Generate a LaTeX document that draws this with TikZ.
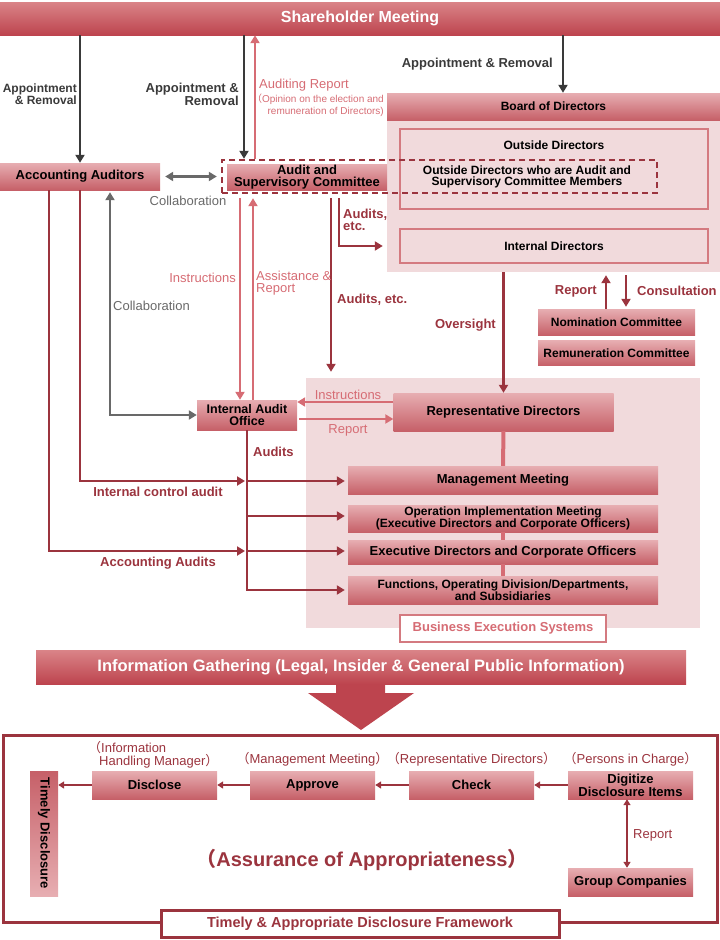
\documentclass[tikz,border=0pt]{standalone}
\usepackage{fontspec}
\setmainfont{Liberation Sans}
\newfontfamily\cjkfont{Noto Sans CJK JP}
\usetikzlibrary{arrows.meta,positioning}
\newcommand{\fwl}{{\cjkfont （}}
\newcommand{\fwr}{{\cjkfont ）}}
\definecolor{dred}{RGB}{155,52,62}
\definecolor{lred}{RGB}{214,108,116}
\definecolor{bxtop}{RGB}{231,174,178}
\definecolor{bxbot}{RGB}{198,96,104}
\definecolor{bartop}{RGB}{218,132,136}
\definecolor{barbot}{RGB}{189,68,78}
\definecolor{pnl}{RGB}{241,218,220}
\definecolor{outl}{RGB}{212,122,128}
\definecolor{dgray}{RGB}{58,58,58}
\definecolor{mgray}{RGB}{105,105,105}
\tikzset{
  box/.style={shade, top color=bxtop, bottom color=bxbot, inner sep=0pt, align=center,
    font=\bfseries\fontsize{13}{12}\selectfont},
  sbox/.style={box, font=\bfseries\fontsize{12}{12}\selectfont},
  bar/.style={shade, top color=bartop, bottom color=barbot, text=white, inner sep=0pt,
    font=\bfseries\fontsize{16}{18}\selectfont},
  panel/.style={fill=pnl, inner sep=0pt},
  obox/.style={draw=outl, line width=1.8pt, fill=pnl, inner sep=0pt,
    font=\bfseries\fontsize{12}{12}\selectfont},
  dashgrp/.style={draw=dred, line width=2.4pt, dash pattern=on 6pt off 4pt, inner sep=0pt},
  wbox/.style={draw=outl, line width=2pt, fill=white, inner sep=0pt, text=lred,
    font=\bfseries\fontsize{13}{12}\selectfont},
  frm/.style={draw=dred, line width=3pt, inner sep=0pt},
  tdfbox/.style={draw=dred, line width=3pt, fill=white, inner sep=0pt, text=dred,
    font=\bfseries\fontsize{14.5}{14}\selectfont},
  txt/.style={inner sep=0pt, align=center, font=\bfseries\fontsize{12}{11.5}\selectfont},
  dlbl/.style={inner sep=0pt, align=center, text=dred, font=\bfseries\fontsize{13}{12}\selectfont},
  glbl/.style={inner sep=0pt, text=dgray, font=\bfseries\fontsize{13}{12}\selectfont},
  llbl/.style={inner sep=0pt, text=lred, font=\fontsize{13}{12}\selectfont},
  ylbl/.style={inner sep=0pt, text=mgray, font=\fontsize{13}{12}\selectfont},
  plbl/.style={inner sep=0pt, text=dred, font=\fontsize{13}{13}\selectfont},
  arr/.style={line width=2.6pt, ->},
  darr/.style={arr, draw=dred},
  larr/.style={arr, draw=lred},
  garr/.style={arr, draw=dgray},
  yarr/.style={arr, draw=mgray},
  sarr/.style={draw=dred, line width=2.2pt, >={Triangle[length=6pt,width=7pt]}, ->},
  conn/.style={draw=lred, line width=4pt},
}

\begin{document}
\begin{tikzpicture}[x=1pt, y=-1pt, >={Triangle[length=8pt,width=9pt]}]
  \useasboundingbox (0,0) rectangle (720,940);

  \node[bar, minimum width=720pt, minimum height=33pt] (share) at (360,18.5) {Shareholder Meeting};

  % board of directors
  \node[panel, minimum width=333pt, minimum height=179pt] (boardp) at (553.5,182.5) {};
  \node[sbox, minimum width=333pt, minimum height=27pt] (board) at (553.5,106.5) {Board of Directors};
  \node[obox, minimum width=308pt, minimum height=80pt] (outdir) at (554,169) {};
  \node[txt, below=12.5pt of outdir.north] (outlbl) {Outside Directors};
  \node[txt] (ascm) at (527,177) {Outside Directors who are Audit and\\Supervisory Committee Members};
  \node[obox, minimum width=308pt, minimum height=34pt] (intdir) at (554,246) {Internal Directors};
  \node[sbox, minimum width=157pt, minimum height=26pt] (nom) at (616.5,322) {Nomination Committee};
  \node[sbox, minimum width=157pt, minimum height=25pt, below=5pt of nom] (rem) {Remuneration Committee};

  % auditors
  \node[box, minimum width=160pt, minimum height=27pt] (acc) at (80,176.5) {Accounting Auditors};
  \node[box, minimum width=160pt, minimum height=26pt] (asc) at (307,177) {Audit and\\Supervisory Committee};
  \node[dashgrp, minimum width=435pt, minimum height=33pt] (ascgrp) at (439.5,176.5) {};

  % business execution
  \node[panel, minimum width=394pt, minimum height=250pt] (exsys) at (503,503) {};
  \node[box, minimum width=100pt, minimum height=30pt, font=\bfseries\fontsize{12.5}{12}\selectfont] (iao) at (247,415) {Internal Audit\\Office};
  \node[box, minimum width=220pt, minimum height=38pt] (rep) at (503.5,412) {Representative Directors};
  \node[box, minimum width=310pt, minimum height=28pt] (mm) at (503,480) {Management Meeting};
  \node[sbox, minimum width=310pt, minimum height=27pt] (oim) at (503,518.5) {Operation Implementation Meeting\\(Executive Directors and Corporate Officers)};
  \node[box, minimum width=310pt, minimum height=24pt] (edco) at (503,552) {Executive Directors and Corporate Officers};
  \node[sbox, minimum width=310pt, minimum height=28pt] (func) at (503,590) {Functions, Operating Division/Departments,\\and Subsidiaries};
  \node[wbox, minimum width=206pt, minimum height=27pt] (bes) at (exsys.south) {Business Execution Systems};

  % information gathering
  \fill[barbot] (336,680) -- (385,680) -- (385,693) -- (414,693) -- (361,730) -- (308,693) -- (336,693) -- cycle;
  \node[bar, minimum width=650pt, minimum height=34pt, font=\bfseries\fontsize{16.5}{18}\selectfont] (info) at (361,667) {Information Gathering (Legal, Insider \& General Public Information)};

  % disclosure framework
  \node[frm, minimum width=714pt, minimum height=187pt] (frame) at (360,828.5) {};
  \node[tdfbox, minimum width=398pt, minimum height=27pt] (tdf) at (frame.south) {Timely \& Appropriate Disclosure Framework};
  \node[box, rotate=-90, top color=bxbot, bottom color=bxtop, minimum width=125pt, minimum height=28pt] (tdisc) at (44,833.5) {Timely Disclosure};
  \node[box, minimum width=125pt, minimum height=28pt] (disc) at (154.5,785) {Disclose};
  \node[box, minimum width=125pt, minimum height=28pt] (appr) at (312.5,785) {Approve};
  \node[box, minimum width=125pt, minimum height=28pt] (chk) at (471.5,785) {Check};
  \node[box, minimum width=125pt, minimum height=28pt] (digi) at (630.5,785) {Digitize\\Disclosure Items};
  \node[box, minimum width=125pt, minimum height=28pt] (grpco) at (630.5,882) {Group Companies};

  % connectors
  \draw[garr] (share.south -| acc.north) -- (acc.north);
  \draw[garr] (244,0 |- share.south) -- (244,0 |- ascgrp.north);
  \draw[larr] (255,0 |- ascgrp.north) -- (255,0 |- share.south);
  \draw[garr] (563,0 |- share.south) -- (563,0 |- boardp.north);
  \draw[yarr, <->, shorten <=5pt, shorten >=4pt] (acc.east) -- (ascgrp.west);

  \draw[larr, shorten <=4pt] (240,0 |- ascgrp.south) -- (240,0 |- iao.north);
  \draw[larr, shorten >=4pt] (253,0 |- iao.north) -- (253,0 |- ascgrp.south);
  \draw[darr, shorten <=4pt, shorten >=6pt] (331,0 |- ascgrp.south) -- (331,0 |- exsys.north);
  \draw[darr, shorten <=4pt, shorten >=4pt] (339,0 |- ascgrp.south) |- (boardp.west |- intdir.west);
  \draw[yarr, <->, shorten <=2pt] (110,0 |- acc.south) |- (iao.west);

  \coordinate (aud1) at (247,481);
  \coordinate (aud2) at (247,516);
  \coordinate (aud3) at (247,551);
  \coordinate (aud4) at (247,590);
  \draw[draw=dred, line width=2.6pt] (iao.south) -- ([yshift=-1.3pt]aud4);
  \draw[darr, shorten >=2pt] (acc.south) |- (aud1);
  \draw[darr, shorten >=2pt] (49,0 |- acc.south) |- (aud3);
  \foreach \n/\b in {1/mm, 2/oim, 3/edco, 4/func}
    \draw[darr, shorten >=3pt] (aud\n) -- (\b.west |- aud\n);

  \draw[darr] (rep.north |- boardp.south) -- (rep.north);
  \draw[darr, shorten >=3pt] (606,0 |- nom.north) -- (606,0 |- boardp.south);
  \draw[darr, shorten <=3pt, shorten >=2pt] (626,0 |- boardp.south) -- (626,0 |- nom.north);
  \draw[larr] (rep.west |- 0,402) -- (iao.east |- 0,402);
  \draw[larr, shorten <=2pt] (iao.east |- 0,419) -- (rep.west |- 0,419);

  \draw[conn] (rep.south) -- (mm.north);
  \draw[conn] (oim.south) -- (edco.north);
  \draw[conn] (edco.south) -- (func.north);

  \draw[sarr] (digi.west) -- (chk.east);
  \draw[sarr] (chk.west) -- (appr.east);
  \draw[sarr] (appr.west) -- (disc.east);
  \draw[sarr] (disc.west) -- (disc.west -| tdisc.north);
  \draw[sarr, <->] (627,0 |- digi.south) -- (627,0 |- grpco.north);

  % labels
  \node[glbl, align=right, anchor=east, font=\bfseries\fontsize{12}{12}\selectfont] (appl1) at (77,94) {Appointment\\\& Removal};
  \node[glbl, align=right, anchor=east] (appl2) at (239,94) {Appointment \&\\Removal};
  \node[glbl, anchor=east] (appl3) at (553,64) {Appointment \& Removal};
  \node[llbl, anchor=west] (audrep) at (259,85) {Auditing Report};
  \node[llbl, align=right, anchor=east, font=\fontsize{10}{12}\selectfont] (opin) at (384,105) {\fwl Opinion on the election and\\remuneration of Directors)};
  \node[ylbl] (coll1) at (188,201) {Collaboration};
  \node[ylbl, anchor=west] (coll2) at (113,306) {Collaboration};
  \node[dlbl, align=left, anchor=west] (audetc1) at (343,220) {Audits,\\etc.};
  \node[dlbl, anchor=west] (audetc2) at (337,300) {Audits, etc.};
  \node[llbl, anchor=east] (instr1) at (236,278) {Instructions};
  \node[llbl, align=left, anchor=west] (assist) at (256,283) {Assistance \&\\Report};
  \node[dlbl, anchor=east] (oversight) at (496,325) {Oversight};
  \node[dlbl, anchor=east] (rep1) at (597,291) {Report};
  \node[dlbl, anchor=west] (consult) at (637,291) {Consultation};
  \node[llbl] (instr2) at (348,395) {Instructions};
  \node[llbl] (rep2) at (348,430) {Report};
  \node[dlbl, anchor=west] (audits) at (253,452) {Audits};
  \node[dlbl] (icaudit) at (158,492) {Internal control audit};
  \node[dlbl] (accaudit) at (158,563) {Accounting Audits};

  \node[plbl, align=left, anchor=west] (ihm) at (88,755) {\fwl Information\\\hspace{11pt}Handling Manager\fwr};
  \node[plbl, above=4pt of appr] (mmlbl) {\fwl Management Meeting\fwr};
  \node[plbl, above=4pt of chk] (rdlbl) {\fwl Representative Directors\fwr};
  \node[plbl, above=4pt of digi] (pclbl) {\fwl Persons in Charge\fwr};
  \node[plbl, anchor=west] (rep3) at (633,835) {Report};
  \node[dlbl, font=\bfseries\fontsize{20}{22}\selectfont] (assur) at (362,860) {\fwl Assurance of Appropriateness\fwr};
\end{tikzpicture}
\end{document}
